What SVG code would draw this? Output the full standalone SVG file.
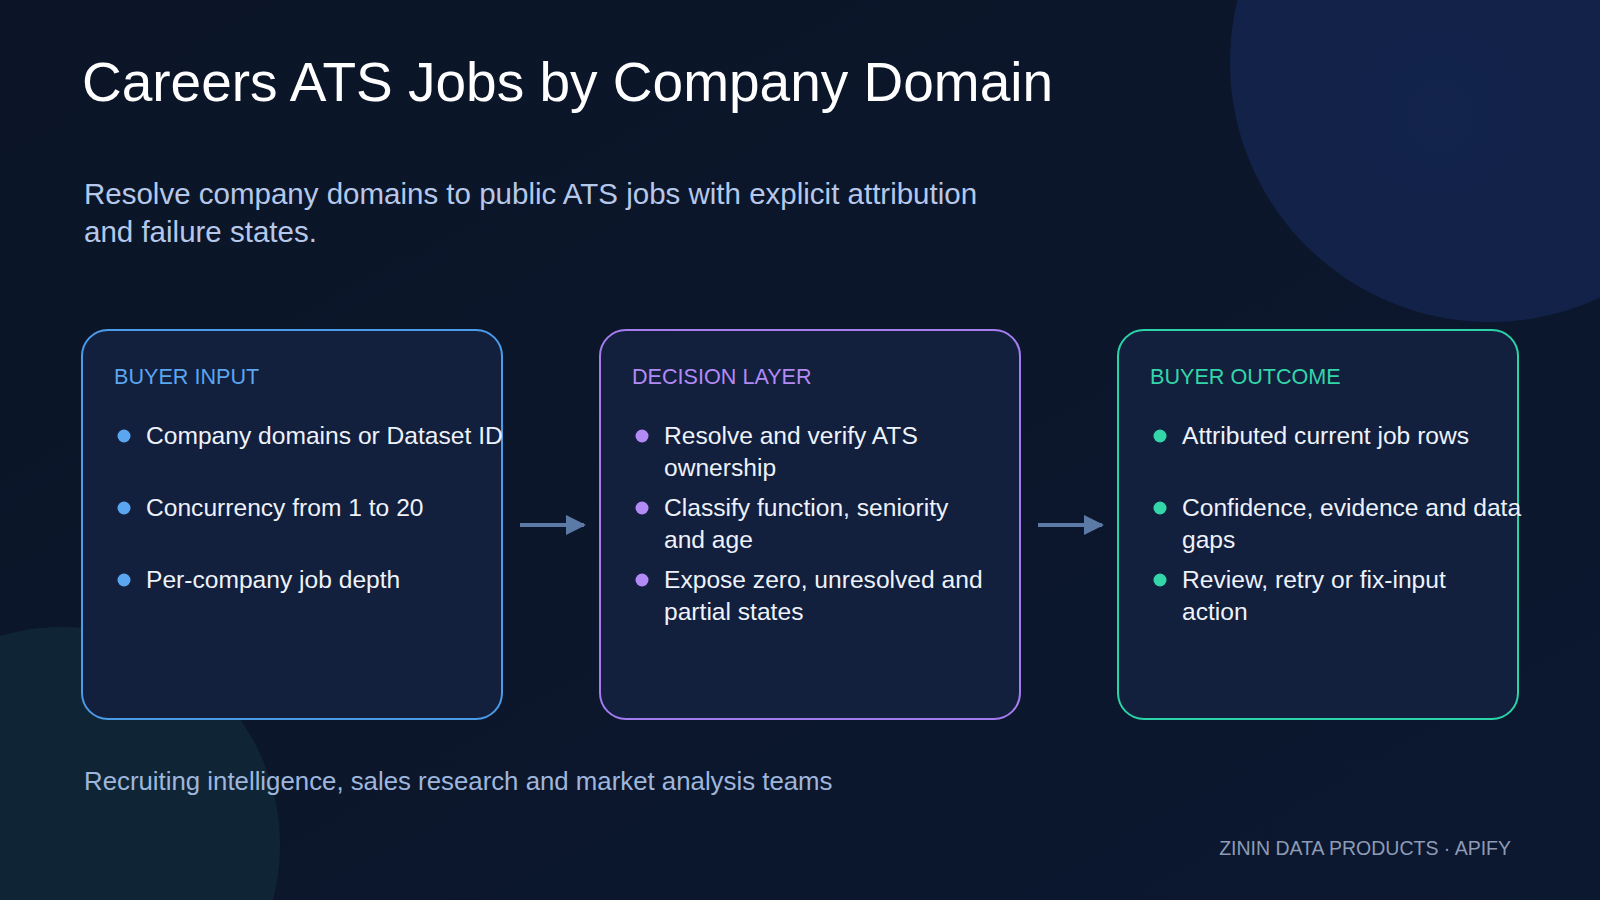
<svg xmlns="http://www.w3.org/2000/svg" width="1600" height="900" viewBox="0 0 1600 900">
<defs>
<style>
text{font-family:"Helvetica Neue","Liberation Sans",Arial,sans-serif}
.b{fill:#eef2fa;font-size:24.6px}
.h{font-size:21.6px}
.card{fill:#121f3d;stroke-width:2}
</style>
<linearGradient id="bg" x1="0" y1="0" x2="1" y2="1"><stop offset="0" stop-color="#0b1527"/><stop offset="1" stop-color="#0c1830"/></linearGradient>
<radialGradient id="tr" cx="0.4" cy="0.6" r="0.7"><stop offset="0" stop-color="#13244c"/><stop offset="1" stop-color="#112045"/></radialGradient>
<marker id="ar" viewBox="0 0 10 10" refX="9" refY="5" markerWidth="5" markerHeight="5" orient="auto"><path d="M0,0L10,5L0,10z" fill="#5c7aa6"/></marker>
</defs>
<rect width="1600" height="900" fill="url(#bg)"/>
<circle cx="1490" cy="62" r="260" fill="url(#tr)"/>
<circle cx="62" cy="845" r="218" fill="#0f2536"/>
<text x="82" y="101" font-size="55" fill="#ffffff">Careers ATS Jobs by Company Domain</text>
<text x="84" y="204" font-size="29.5" fill="#b6c8ea">Resolve company domains to public ATS jobs with explicit attribution</text>
<text x="84" y="242" font-size="29.5" fill="#b6c8ea">and failure states.</text>
<g id="input">
<rect class="card" x="82" y="330" width="420" height="389" rx="26" stroke="#4b9be8"/>
<text class="h" x="114" y="384" fill="#5aa6f0">BUYER INPUT</text>
<g fill="#5aa6f0"><circle cx="124" cy="436" r="6.5"/><circle cx="124" cy="508" r="6.5"/><circle cx="124" cy="580" r="6.5"/></g>
<text class="b" x="146" y="444">Company domains or Dataset ID</text>
<text class="b" x="146" y="516">Concurrency from 1 to 20</text>
<text class="b" x="146" y="588">Per-company job depth</text>
</g>
<g id="decision">
<rect class="card" x="600" y="330" width="420" height="389" rx="26" stroke="#a57cf0"/>
<text class="h" x="632" y="384" fill="#b28af5">DECISION LAYER</text>
<g fill="#b28af5"><circle cx="642" cy="436" r="6.5"/><circle cx="642" cy="508" r="6.5"/><circle cx="642" cy="580" r="6.5"/></g>
<text class="b" x="664" y="444">Resolve and verify ATS</text>
<text class="b" x="664" y="476">ownership</text>
<text class="b" x="664" y="516">Classify function, seniority</text>
<text class="b" x="664" y="548">and age</text>
<text class="b" x="664" y="588">Expose zero, unresolved and</text>
<text class="b" x="664" y="620">partial states</text>
</g>
<g id="outcome">
<rect class="card" x="1118" y="330" width="400" height="389" rx="26" stroke="#2bd4a8"/>
<text class="h" x="1150" y="384" fill="#33d6a8">BUYER OUTCOME</text>
<g fill="#33d6a8"><circle cx="1160" cy="436" r="6.5"/><circle cx="1160" cy="508" r="6.5"/><circle cx="1160" cy="580" r="6.5"/></g>
<text class="b" x="1182" y="444">Attributed current job rows</text>
<text class="b" x="1182" y="516">Confidence, evidence and data</text>
<text class="b" x="1182" y="548">gaps</text>
<text class="b" x="1182" y="588">Review, retry or fix-input</text>
<text class="b" x="1182" y="620">action</text>
</g>
<g id="connectors" stroke="#5c7aa6" stroke-width="4" fill="none">
<line x1="520" y1="525" x2="584" y2="525" marker-end="url(#ar)"/>
<line x1="1038" y1="525" x2="1102" y2="525" marker-end="url(#ar)"/>
</g>
<text x="84" y="790" font-size="25.8" fill="#9fb6dc">Recruiting intelligence, sales research and market analysis teams</text>
<text x="1511" y="855" font-size="19.5" fill="#8d9bb5" text-anchor="end">ZININ DATA PRODUCTS · APIFY</text>
</svg>
